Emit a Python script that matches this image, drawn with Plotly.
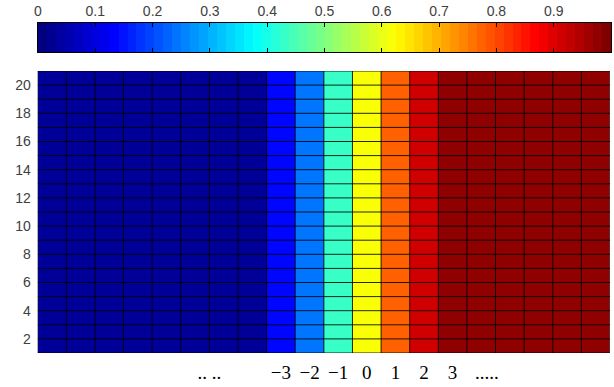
import numpy as np
import plotly.graph_objects as go

# ---- data ----
n_rows = 20
column_values = [0.025, 0.025, 0.025, 0.025, 0.025, 0.025, 0.025, 0.025,
                 0.13, 0.24, 0.43, 0.62, 0.78, 0.92,
                 0.985, 0.985, 0.985, 0.985, 0.985, 0.985]
row_labels = list(range(1, n_rows + 1))
ytick_vals = [2, 4, 6, 8, 10, 12, 14, 16, 18, 20]
ytick_text = ["2", "4", "6", "8", "10", "12", "14", "16", "18", "20"]
xtick_vals = [7.0, 9.5, 10.5, 11.5, 12.5, 13.5, 14.5, 15.5, 16.7]
xtick_text = [".. ..", "\u22123", "\u22122", "\u22121", "0", "1", "2", "3", "....."]
cbar_tick_vals = [0, 0.1, 0.2, 0.3, 0.4, 0.5, 0.6, 0.7, 0.8, 0.9]
cbar_tick_text = ["0", "0.1", "0.2", "0.3", "0.4", "0.5", "0.6", "0.7", "0.8", "0.9"]
cbar_levels = list(np.linspace(0, 1, 64))

jet = [[0.0, "rgb(0,0,128)"], [0.125, "rgb(0,0,255)"], [0.375, "rgb(0,255,255)"],
       [0.625, "rgb(255,255,0)"], [0.875, "rgb(255,0,0)"], [1.0, "rgb(128,0,0)"]]

z = [list(column_values) for _ in row_labels]
x_centers = [i + 1.5 for i in range(len(column_values))]
y_centers = [r + 0.5 for r in row_labels]

W, H = 614, 387
fig = go.Figure()
fig.add_trace(go.Heatmap(z=z, x=x_centers, y=y_centers, colorscale=jet, zmin=0, zmax=1,
                         showscale=False, xaxis="x", yaxis="y", hoverinfo="skip"))
ncb = len(cbar_levels)
fig.add_trace(go.Heatmap(z=[cbar_levels], x=[(i + 0.5) / ncb for i in range(ncb)], y=[0.5],
                         colorscale=jet, zmin=0, zmax=1, showscale=False,
                         xaxis="x2", yaxis="y2", hoverinfo="skip"))

# cell edges (pcolor-style grid)
shapes = []
for i in range(len(column_values) + 1):
    xe = 1 + i
    shapes.append(dict(type="line", xref="x", yref="y", x0=xe, x1=xe, y0=1, y1=n_rows + 1,
                       line=dict(color="rgba(0,0,0,0.85)", width=1), layer="above"))
for j in range(n_rows + 1):
    ye = 1 + j
    shapes.append(dict(type="line", xref="x", yref="y", x0=1, x1=len(column_values) + 1, y0=ye, y1=ye,
                       line=dict(color="rgba(0,0,0,0.85)", width=1), layer="above"))

fig.update_layout(
    width=W, height=H, margin=dict(l=0, r=0, t=0, b=0),
    template="none", paper_bgcolor="white", plot_bgcolor="white",
    shapes=shapes,
    xaxis=dict(domain=[37.7 / W, 610 / W], range=[1, 21], tickvals=xtick_vals, ticktext=xtick_text,
               ticks="outside", ticklen=2, tickcolor="rgba(0,0,0,0)", showgrid=False, zeroline=False,
               showline=False,
               tickfont=dict(family="Liberation Serif", size=19, color="black"), automargin=False),
    yaxis=dict(domain=[1 - 353 / H, 1 - 71 / H], range=[1, 21], tickvals=ytick_vals, ticktext=ytick_text,
               ticks="outside", ticklen=3, tickcolor="rgba(0,0,0,0)", showgrid=False, zeroline=False,
               showline=False,
               tickfont=dict(family="Liberation Sans", size=14, color="#404040"), automargin=False),
    xaxis2=dict(domain=[38 / W, 611 / W], range=[0, 1], anchor="y2", side="top",
                tickvals=cbar_tick_vals, ticktext=cbar_tick_text, ticks="inside", ticklen=4,
                tickcolor="black", showgrid=False, zeroline=False, showline=True,
                linecolor="black", mirror="ticks",
                tickfont=dict(family="Liberation Sans", size=14, color="#404040"), automargin=False),
    yaxis2=dict(domain=[1 - 52 / H, 1 - 23 / H], range=[0, 1], anchor="x2", showticklabels=False,
                ticks="", showgrid=False, zeroline=False, showline=True, linecolor="black",
                mirror=True, automargin=False),
)

fig.write_html("out.html", config={"displayModeBar": False})
with open("out.html", "r", encoding="utf-8") as f:
    html = f.read()
html = html.replace("<head>", "<head><style>html,body{margin:0;padding:0;overflow:hidden;}</style>", 1)
with open("out.html", "w", encoding="utf-8") as f:
    f.write(html)
